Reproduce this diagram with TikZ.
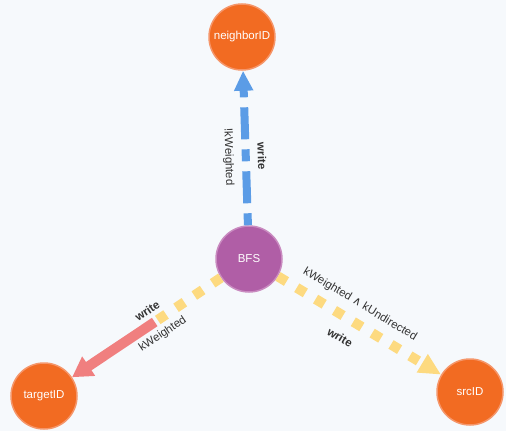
\documentclass[tikz,border=0pt]{standalone}
\usepackage{fontspec}
\setmainfont{Liberation Sans}
\newfontfamily\opfont{DejaVu Sans}
\usepackage{xcolor}
\usepackage{tikz}
\usetikzlibrary{arrows.meta,calc}
\definecolor{canvas}{HTML}{F6F9FC}
\definecolor{paramfill}{HTML}{F26B22}
\definecolor{paramline}{HTML}{F5966A}
\definecolor{algofill}{HTML}{B05EA6}
\definecolor{algoline}{HTML}{C98BC0}
\definecolor{readblue}{HTML}{5B9CE6}
\definecolor{condyellow}{HTML}{FDDA80}
\definecolor{writered}{HTML}{F07F7F}
\definecolor{textgrey}{HTML}{333333}
\tikzstyle{vertex} = [circle, line width=1.5pt, minimum size=66pt, inner sep=0pt, text=white, font=\fontsize{11.5}{13}\selectfont]
\tikzstyle{param} = [vertex, fill=paramfill, draw=paramline]
\tikzstyle{algo} = [vertex, fill=algofill, draw=algoline]
\tikzstyle{edgetext} = [sloped, pos=0.445, inner sep=1pt, text=textgrey, font=\fontsize{11.5}{13}\selectfont]
\tikzstyle{readline} = [draw=readblue, line width=8pt, dash pattern=on 12pt off 10pt on 32pt off 10pt, -{Triangle[length=20pt, width=18pt]}]
\tikzstyle{condline} = [draw=condyellow, line width=10pt, dash pattern=on 10pt off 12pt]
\tikzstyle{condarrow} = [condline, -{Triangle[length=22pt, width=20pt]}]
\tikzstyle{writeline} = [draw=writered, line width=10pt, -{Triangle[length=20pt, width=22pt]}]

\begin{document}
\begin{tikzpicture}[x=1pt, y=-1pt]
        \useasboundingbox[fill=canvas] (0,0) rectangle (506,431);
        % Nodes
        \node [algo] (bfs) at (249,259) {BFS};
        \node [param] (neighbor) at (242,37) {neighborID};
        \node [param] (target) at (44,396) {targetID};
        \node [param] (src) at (470,392) {srcID};
        \coordinate (tmid) at ($(bfs)!0.46!(target)$);

        % Paths
        \path [readline] (bfs) -- (neighbor)
            node [edgetext, above=7pt] {\bfseries write}
            node [edgetext, below=7pt] {!kWeighted};
        \path [condline] (bfs) -- (tmid);
        \path [writeline] (tmid) -- (target);
        \path (bfs) -- (target)
            node [edgetext, above=8pt] {\bfseries write}
            node [edgetext, below=8pt] {kWeighted};
        \path [condarrow] (bfs) -- (src)
            node [edgetext, above=7pt] {kWeighted {\opfont ∧} kUndirected}
            node [edgetext, below=10pt] {\bfseries write};
    \end{tikzpicture}
\end{document}
